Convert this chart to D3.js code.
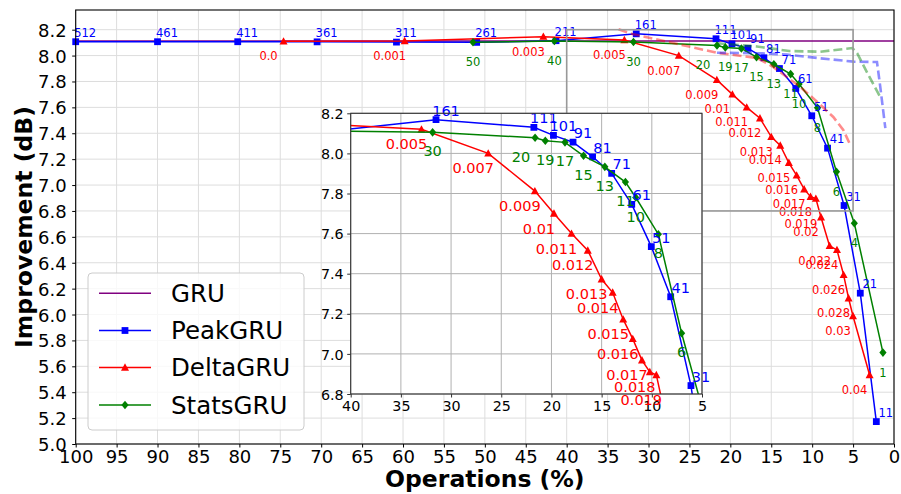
<!DOCTYPE html>
<html><head><meta charset="utf-8">
<script src="https://cdn.jsdelivr.net/npm/d3@7"></script>
<style>body{margin:0;background:#fff}svg{display:block;font-family:"DejaVu Sans",sans-serif}</style>
</head><body><svg id="c" width="901" height="494"></svg>
<script>
// ---------------- data ----------------
const xTicks = [100,95,90,85,80,75,70,65,60,55,50,45,40,35,30,25,20,15,10,5,0];
const yTicks = [5.0,5.2,5.4,5.6,5.8,6.0,6.2,6.4,6.6,6.8,7.0,7.2,7.4,7.6,7.8,8.0,8.2];
const insetXTicks = [40,35,30,25,20,15,10,5];
const insetYTicks = [6.8,7.0,7.2,7.4,7.6,7.8,8.0,8.2];

const gruValue = 8.113;

const peakLabels = ["512","461","411","361","311","261","211","161","111","101","91","81","71","61","51","41","31","21","11"];
const peakOps = [100,90.0,80.2,70.5,60.8,51.0,41.3,31.5,21.75,19.8,17.85,15.9,14.0,12.0,10.05,8.12,6.1,4.12,2.16];
const peakImp = [8.107,8.107,8.107,8.106,8.104,8.102,8.115,8.168,8.13,8.09,8.056,7.983,7.9,7.746,7.535,7.285,6.842,6.165,5.173];

const deltaLabels = ["0.0","0.001","0.003","0.005","0.007","0.009","0.01","0.011","0.012","0.013","0.014","0.015","0.016","0.017","0.018","0.019","0.02","0.022","0.024","0.026","0.028","0.03","0.04"];
const deltaOps = [74.6,59.8,42.85,32.95,26.3,21.65,19.75,18.0,16.38,15.0,13.9,12.85,11.9,10.98,10.2,9.55,8.92,7.87,6.97,6.16,5.55,5.01,2.98];
const deltaImp = [8.11,8.113,8.146,8.12,8.0,7.812,7.70,7.60,7.516,7.372,7.306,7.172,7.075,6.968,6.91,6.895,6.751,6.53,6.499,6.306,6.126,5.989,5.533];

const statsLabels = ["50","40","30","20","19","17","15","13","11","10","8","6","4","1"];
const statsOps = [51.45,41.5,31.84,21.63,20.61,18.65,16.8,14.68,12.63,11.6,9.35,7.03,4.85,1.35];
const statsImp = [8.103,8.112,8.105,8.078,8.063,8.055,7.988,7.933,7.857,7.78,7.597,7.103,6.705,5.706];

const dashRedOps = [33.66,31.99,21.64,16.71,14.76,11.46,9.38,7.42,6.2,5.35];
const dashRedImp = [8.203,8.167,8.022,7.981,7.912,7.758,7.642,7.526,7.426,7.31];
const dashBlueOps = [21.64,16.34,13.08,9.01,4.94,2.08,1.68,1.06];
const dashBlueImp = [8.022,8.018,8.008,7.979,7.953,7.95,7.76,7.439];
const dashGreenOps = [21.64,16.75,12.8,9.0,5.1,4.5,3.3,1.6];
const dashGreenImp = [8.095,8.07,8.035,8.03,8.058,8.018,7.87,7.67];

const legendNames = ["GRU","PeakGRU","DeltaGRU","StatsGRU"];

// ---------------- helpers ----------------
const zip = (xs, ys, ls) => xs.map((v,i)=>({x:v, y:ys[i], l: ls ? ls[i] : null}));
const peak = zip(peakOps, peakImp, peakLabels);
const delta = zip(deltaOps, deltaImp, deltaLabels);
const stats = zip(statsOps, statsImp, statsLabels);

const series = [
  {name:"PeakGRU", data:peak, color:"#0000ff", marker:"square"},
  {name:"DeltaGRU", data:delta, color:"#ff0000", marker:"triangle"},
  {name:"StatsGRU", data:stats, color:"#008000", marker:"diamond"}
];
const dashed = [
  {data: zip(dashRedOps, dashRedImp), color:"#ff0000"},
  {data: zip(dashBlueOps, dashBlueImp), color:"#0000ff"},
  {data: zip(dashGreenOps, dashGreenImp), color:"#008000"}
];

function markerPath(kind){
  if(kind==="square") return "M-3.4,-3.4H3.4V3.4H-3.4Z";
  if(kind==="triangle") return "M0,-4.2L4,3.2L-4,3.2Z";
  if(kind==="diamond") return "M0,-4.3L3.6,0L0,4.3L-3.6,0Z";
  return "";
}

function labelPos(s, d){
  // offsets for annotations
  if(s.marker==="square") return {dx:9.5, dy:-5};
  if(s.marker==="triangle") return {dx:-15, dy: d.l==="0.019" ? 29 : 19};
  if(s.marker==="diamond") return {dx: d.l==="20" ? -14 : 0, dy:24};
}

const svg = d3.select("#c");
const M = {l:75.7, r:894, t:10, b:444};
const x = d3.scaleLinear().domain([100,0]).range([M.l,M.r]);
const y = d3.scaleLinear().domain([5.0,8.352]).range([M.b,M.t]);

// grid
const g = svg.append("g");
g.selectAll(".vg").data(xTicks).join("line")
  .attr("x1",d=>x(d)).attr("x2",d=>x(d)).attr("y1",M.t).attr("y2",M.b)
  .attr("stroke","#dddddd").attr("stroke-width",1);
g.selectAll(".hg").data(yTicks).join("line")
  .attr("x1",M.l).attr("x2",M.r).attr("y1",d=>y(d)).attr("y2",d=>y(d))
  .attr("stroke","#dddddd").attr("stroke-width",1);

// axes
const xAxis = svg.append("g").attr("transform",`translate(0,${M.b})`)
  .call(d3.axisBottom(x).tickValues(xTicks).tickSize(3.5).tickPadding(2.5).tickFormat(d3.format("d")));
const yAxis = svg.append("g").attr("transform",`translate(${M.l},0)`)
  .call(d3.axisLeft(y).tickValues(yTicks).tickSize(3.5).tickPadding(5.5).tickFormat(d3.format(".1f")));
[xAxis,yAxis].forEach(a=>{
  a.select(".domain").remove();
  a.selectAll("text").attr("font-size",18).attr("fill","#000").attr("font-family","DejaVu Sans");
  a.selectAll("line").attr("stroke","#000");
});
yAxis.selectAll("text").attr("dy","0.36em");

// GRU line
svg.append("line").attr("x1",x(100)).attr("x2",x(0)).attr("y1",y(gruValue)).attr("y2",y(gruValue))
  .attr("stroke","#800080").attr("stroke-width",1.5);

const line = (sx, sy) => d3.line().x(d=>sx(d.x)).y(d=>sy(d.y));

function drawSeries(root, sx, sy, fs, inset, clipId){
  const lg = root.append("g");
  if(clipId) lg.attr("clip-path",`url(#${clipId})`);
  series.forEach(s=>{
    lg.append("path").attr("d", line(sx,sy)(s.data)).attr("fill","none")
      .attr("stroke",s.color).attr("stroke-width",1.5);
    lg.selectAll(null).data(s.data).join("path")
      .attr("d",markerPath(s.marker)).attr("fill",s.color)
      .attr("transform",d=>`translate(${sx(d.x)},${sy(d.y)})`);
  });
  const tg = root.append("g");
  series.forEach(s=>{
    let pts = s.data;
    if(inset){
      pts = pts.filter(d=> d.x<=40 && d.x>=5 && d.y>=6.8 && d.y<=8.2);
    }
    tg.selectAll(null).data(pts).join("text")
      .attr("x",d=>sx(d.x)+labelPos(s,d).dx + (inset && s.marker==="square"?0.5:0))
      .attr("y",d=>sy(d.y)+labelPos(s,d).dy + (inset && s.marker==="triangle"?1:0) + (inset && s.marker==="square"?1:0))
      .attr("text-anchor","middle").attr("font-size",fs).attr("fill",s.color)
      .text(d=>d.l);
  });
}

drawSeries(svg, x, y, 11.5, false, null);

// dashed light curves
dashed.forEach(c=>{
  svg.append("path").attr("d", line(x,y)(c.data)).attr("fill","none")
    .attr("stroke",c.color).attr("stroke-opacity",0.45).attr("stroke-width",2.6)
    .attr("stroke-dasharray","9,4");
});

// inset indicator rectangle
svg.append("rect").attr("x",x(40)).attr("y",y(8.2)).attr("width",x(5)-x(40)).attr("height",y(6.8)-y(8.2))
  .attr("fill","none").attr("stroke","#999").attr("stroke-width",1.6);

// spines
svg.append("rect").attr("x",M.l).attr("y",M.t).attr("width",M.r-M.l).attr("height",M.b-M.t)
  .attr("fill","none").attr("stroke","#000").attr("stroke-width",1.1);

// axis titles
svg.append("text").attr("x",(M.l+M.r)/2).attr("y",486.5).attr("text-anchor","middle")
  .attr("font-size",23.5).attr("font-weight","bold").text("Operations (%)");
svg.append("text").attr("transform",`translate(31.5,${(M.t+M.b)/2}) rotate(-90)`).attr("text-anchor","middle")
  .attr("font-size",23.5).attr("font-weight","bold").text("Improvement (dB)");

// legend
const legColors = ["#800080","#0000ff","#ff0000","#008000"];
const legMarkers = [null,"square","triangle","diamond"];
const leg = svg.append("g");
leg.append("rect").attr("x",88).attr("y",273).attr("width",216).attr("height",157).attr("rx",4)
  .attr("fill","#fff").attr("fill-opacity",0.8).attr("stroke","#cccccc").attr("stroke-width",1);
const legY = [293.3,330.5,367.5,405];
legendNames.forEach((n,i)=>{
  leg.append("line").attr("x1",99).attr("x2",151).attr("y1",legY[i]).attr("y2",legY[i])
    .attr("stroke",legColors[i]).attr("stroke-width",1.5);
  if(legMarkers[i]) leg.append("path").attr("d",markerPath(legMarkers[i])).attr("fill",legColors[i])
    .attr("transform",`translate(125,${legY[i]})`);
  leg.append("text").attr("x",171).attr("y",legY[i]).attr("dy","0.36em").attr("font-size",24.5).text(n);
});

// ---------------- inset ----------------
const I = {l:350.7, r:702, t:113.3, b:394};
const xi = d3.scaleLinear().domain([40,5]).range([I.l,I.r]);
const yi = d3.scaleLinear().domain([6.8,8.2]).range([I.b,I.t]);
const ins = svg.append("g");
ins.append("rect").attr("x",I.l).attr("y",I.t).attr("width",I.r-I.l).attr("height",I.b-I.t).attr("fill","#fff");
svg.append("defs").append("clipPath").attr("id","ic").append("rect")
  .attr("x",I.l).attr("y",I.t).attr("width",I.r-I.l).attr("height",I.b-I.t);
ins.selectAll(".ivg").data(insetXTicks).join("line")
  .attr("x1",d=>xi(d)).attr("x2",d=>xi(d)).attr("y1",I.t).attr("y2",I.b)
  .attr("stroke","#b0b0b0").attr("stroke-width",1);
ins.selectAll(".ihg").data(insetYTicks).join("line")
  .attr("x1",I.l).attr("x2",I.r).attr("y1",d=>yi(d)).attr("y2",d=>yi(d))
  .attr("stroke","#b0b0b0").attr("stroke-width",1);
const ixA = ins.append("g").attr("transform",`translate(0,${I.b})`)
  .call(d3.axisBottom(xi).tickValues(insetXTicks).tickSize(3.5).tickPadding(3.5).tickFormat(d3.format("d")));
const iyA = ins.append("g").attr("transform",`translate(${I.l},0)`)
  .call(d3.axisLeft(yi).tickValues(insetYTicks).tickSize(3.5).tickPadding(3.5).tickFormat(d3.format(".1f")));
[ixA,iyA].forEach(a=>{
  a.select(".domain").remove();
  a.selectAll("text").attr("font-size",14.3).attr("fill","#000").attr("font-family","DejaVu Sans");
  a.selectAll("line").attr("stroke","#333");
});
iyA.selectAll("text").attr("dy","0.36em");
drawSeries(ins, xi, yi, 14.5, true, "ic");
ins.append("rect").attr("x",I.l).attr("y",I.t).attr("width",I.r-I.l).attr("height",I.b-I.t)
  .attr("fill","none").attr("stroke","#333").attr("stroke-width",1.1);
</script></body></html>
